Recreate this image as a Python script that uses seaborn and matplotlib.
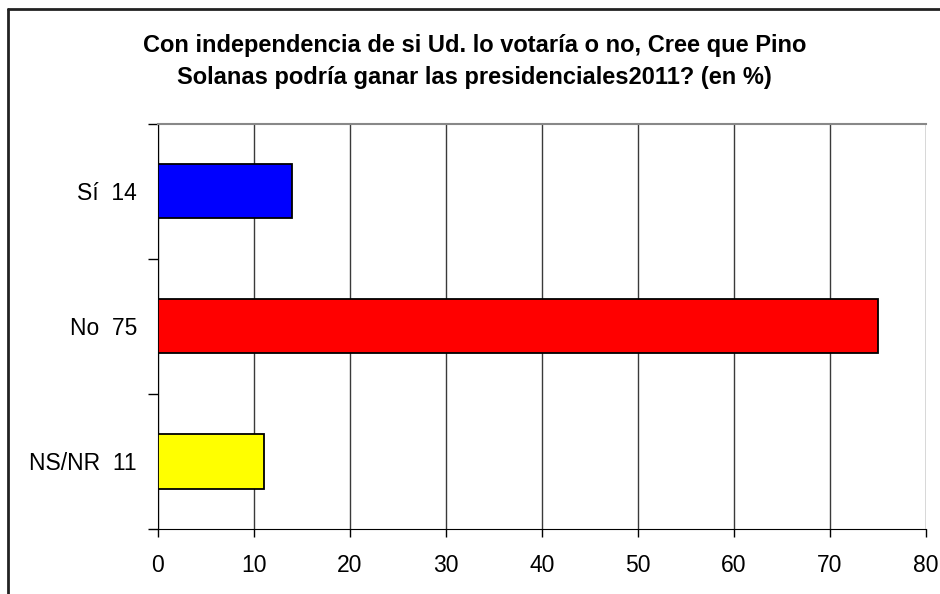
import pandas as pd
import seaborn as sns
import matplotlib.pyplot as plt
from matplotlib.lines import Line2D

# chart values
labels = ['Sí  14', 'No  75', 'NS/NR  11']
values = [14, 75, 11]
colors = ['#0000FF', '#FF0000', '#FFFF00']
title = 'Con independencia de si Ud. lo votaría o no, Cree que Pino\nSolanas podría ganar las presidenciales2011? (en %)'

df = pd.DataFrame({'answer': labels, 'pct': values})

sns.set_style('white')
plt.rcParams['font.family'] = ['Liberation Sans', 'DejaVu Sans']
plt.rcParams['text.color'] = 'black'
plt.rcParams['xtick.color'] = 'black'
plt.rcParams['ytick.color'] = 'black'

fig = plt.figure(figsize=(9.4, 5.94), dpi=100)
ax = fig.add_axes([0.168, 0.1094, 0.817, 0.682])

sns.barplot(data=df, x='pct', y='answer', hue='answer', palette=colors,
            legend=False, width=0.4, edgecolor='black', linewidth=1.3,
            saturation=1, ax=ax, zorder=3)

ax.set_xlim(0, 80)
ax.set_ylim(2.5, -0.5)
ax.set_xticks(range(0, 81, 10))
ax.set_xlabel('')
ax.set_ylabel('')

# category boundaries as tick marks, labels at centres
ax.set_yticks([-0.5, 0.5, 1.5, 2.5])
ax.set_yticklabels([])
ax.set_yticks([0, 1, 2], minor=True)
ax.set_yticklabels(labels, minor=True)
ax.tick_params(axis='y', which='major', length=7, width=1, color='black', left=True)
ax.tick_params(axis='y', which='minor', length=0, pad=15, labelsize=16.5)
ax.tick_params(axis='x', length=6, width=1, color='black', bottom=True, pad=12, labelsize=16.5)

ax.xaxis.grid(True, color='#3a3a3a', linewidth=1)
ax.set_axisbelow(True)
ax.spines['right'].set_visible(False)
ax.spines['left'].set_color('black')
ax.spines['bottom'].set_color('black')
ax.spines['top'].set_color('#888888')
ax.spines['top'].set_linewidth(1.5)

fig.text(0.505, 0.942, title, ha='center', va='top', fontsize=17,
         fontweight='bold', linespacing=1.45)

# outer frame edges (left and top) of the chart area
fig.add_artist(Line2D([0.008, 0.008], [0, 0.985], color='#222222', linewidth=2))
fig.add_artist(Line2D([0.008, 1.0], [0.985, 0.985], color='#222222', linewidth=2))

fig.savefig('out.png', dpi=100)
